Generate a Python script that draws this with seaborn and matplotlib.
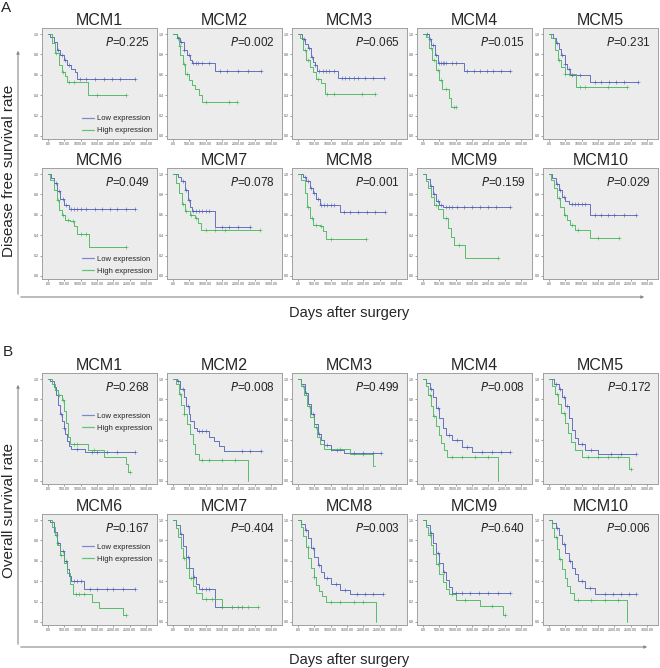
import numpy as np
import matplotlib
matplotlib.use("Agg")
import matplotlib.pyplot as plt
import seaborn as sns
from matplotlib.lines import Line2D
from matplotlib.patches import FancyArrowPatch

GENES = ["MCM1", "MCM2", "MCM3", "MCM4", "MCM5",
         "MCM6", "MCM7", "MCM8", "MCM9", "MCM10"]
DFS_P = ["0.225", "0.002", "0.065", "0.015", "0.231",
         "0.049", "0.078", "0.001", "0.159", "0.029"]
OS_P = ["0.268", "0.008", "0.499", "0.008", "0.172",
        "0.167", "0.404", "0.003", "0.640", "0.006"]

X_TICKS = [0, 500, 1000, 1500, 2000, 2500, 3000]
X_TICK_LABELS = [".00", "500.00", "1000.00", "1500.00", "2000.00", "2500.00", "3000.00"]
Y_TICKS = [0.0, 0.2, 0.4, 0.6, 0.8, 1.0]

# Kaplan-Meier steps (days, survival), last pair = end of follow-up
DFS_LOW = {
    "MCM1": [(0, 1.0), (60, 0.97), (170, 0.92), (280, 0.84), (380, 0.79), (480, 0.75), (580, 0.70), (710, 0.66), (820, 0.63), (890, 0.56), (2670, 0.56)],
    "MCM2": [(0, 1.0), (120, 0.96), (220, 0.92), (330, 0.84), (430, 0.79), (530, 0.75), (580, 0.72), (1300, 0.64), (2690, 0.64)],
    "MCM3": [(0, 1.0), (130, 0.95), (200, 0.90), (300, 0.86), (400, 0.78), (460, 0.73), (510, 0.70), (580, 0.64), (1220, 0.57), (2620, 0.57)],
    "MCM4": [(0, 1.0), (180, 0.95), (250, 0.89), (360, 0.79), (460, 0.72), (1250, 0.64), (2670, 0.64)],
    "MCM5": [(0, 1.0), (120, 0.96), (220, 0.91), (300, 0.85), (380, 0.79), (480, 0.71), (550, 0.66), (630, 0.60), (1250, 0.53), (2720, 0.53)],
    "MCM6": [(0, 1.0), (100, 0.96), (170, 0.91), (280, 0.83), (380, 0.76), (480, 0.70), (630, 0.66), (2670, 0.66)],
    "MCM7": [(0, 1.0), (150, 0.97), (250, 0.93), (360, 0.84), (460, 0.75), (530, 0.68), (590, 0.64), (1280, 0.48), (2370, 0.48)],
    "MCM8": [(0, 1.0), (150, 0.97), (250, 0.93), (360, 0.86), (460, 0.81), (560, 0.76), (660, 0.70), (1280, 0.63), (2650, 0.63)],
    "MCM9": [(0, 1.0), (100, 0.95), (200, 0.88), (300, 0.80), (400, 0.74), (500, 0.70), (600, 0.68), (2650, 0.68)],
    "MCM10": [(0, 1.0), (100, 0.96), (200, 0.90), (300, 0.84), (400, 0.78), (500, 0.74), (600, 0.71), (1250, 0.60), (2650, 0.60)],
}
DFS_HIGH = {
    "MCM1": [(0, 1.0), (120, 0.91), (220, 0.81), (330, 0.70), (430, 0.63), (530, 0.59), (580, 0.53), (1220, 0.40), (2390, 0.40)],
    "MCM2": [(0, 1.0), (120, 0.97), (170, 0.88), (220, 0.79), (310, 0.71), (380, 0.61), (480, 0.55), (580, 0.50), (680, 0.46), (790, 0.40), (890, 0.33), (1960, 0.33)],
    "MCM3": [(0, 1.0), (70, 0.96), (150, 0.84), (250, 0.75), (360, 0.68), (460, 0.63), (560, 0.56), (710, 0.52), (820, 0.41), (2350, 0.41)],
    "MCM4": [(0, 1.0), (100, 0.97), (180, 0.86), (290, 0.75), (390, 0.65), (490, 0.55), (590, 0.46), (800, 0.37), (870, 0.28), (1020, 0.28)],
    "MCM5": [(0, 1.0), (70, 0.96), (170, 0.84), (280, 0.75), (380, 0.68), (480, 0.61), (840, 0.48), (2390, 0.48)],
    "MCM6": [(0, 1.0), (70, 0.94), (170, 0.84), (280, 0.75), (350, 0.65), (430, 0.60), (530, 0.55), (680, 0.54), (790, 0.49), (890, 0.41), (1250, 0.28), (2390, 0.28)],
    "MCM7": [(0, 1.0), (100, 0.91), (180, 0.81), (260, 0.71), (360, 0.64), (510, 0.60), (660, 0.57), (770, 0.52), (870, 0.45), (2650, 0.45)],
    "MCM8": [(0, 1.0), (100, 0.94), (200, 0.81), (280, 0.68), (360, 0.57), (460, 0.50), (660, 0.49), (770, 0.44), (870, 0.36), (2090, 0.36)],
    "MCM9": [(0, 1.0), (80, 0.93), (150, 0.86), (250, 0.78), (350, 0.70), (450, 0.66), (600, 0.57), (750, 0.47), (850, 0.38), (950, 0.30), (1300, 0.18), (2300, 0.18)],
    "MCM10": [(0, 1.0), (60, 0.94), (150, 0.86), (250, 0.77), (350, 0.68), (450, 0.60), (550, 0.55), (650, 0.50), (800, 0.45), (1250, 0.37), (2150, 0.37)],
}
DFS_LOW_CENS = {
    "MCM1": [300, 420, 520, 650, 990, 1160, 1450, 1700, 1960, 2210, 2670],
    "MCM2": [150, 250, 350, 480, 620, 700, 780, 900, 1100, 1450, 1650, 2000, 2300, 2690],
    "MCM3": [180, 350, 420, 520, 650, 750, 850, 950, 1100, 1350, 1450, 1550, 1700, 1850, 2050, 2300, 2620],
    "MCM4": [120, 200, 300, 400, 500, 550, 600, 650, 700, 900, 1000, 1350, 1550, 1750, 1950, 2150, 2400, 2670],
    "MCM5": [250, 400, 500, 600, 700, 950, 1400, 1600, 1850, 2050, 2300, 2720],
    "MCM6": [250, 350, 450, 550, 700, 800, 900, 1000, 1150, 1450, 1650, 1900, 2100, 2400, 2670],
    "MCM7": [300, 400, 500, 620, 700, 800, 900, 1000, 1100, 1500, 1700, 2000, 2370],
    "MCM8": [200, 300, 400, 500, 600, 700, 800, 900, 1000, 1100, 1400, 1600, 1850, 2100, 2350, 2650],
    "MCM9": [250, 350, 450, 550, 700, 800, 900, 1050, 1250, 1500, 1750, 2000, 2250, 2650],
    "MCM10": [250, 350, 450, 700, 800, 900, 1000, 1100, 1400, 1600, 1800, 2000, 2300, 2650],
}
DFS_HIGH_CENS = {
    "MCM1": [250, 450, 650, 800, 1500, 2390],
    "MCM2": [200, 350, 420, 1000, 1700, 1960],
    "MCM3": [200, 300, 600, 900, 1100, 1950, 2350],
    "MCM4": [250, 350, 450, 550, 700, 950, 1020],
    "MCM5": [300, 500, 600, 950, 1100, 1800, 2390],
    "MCM6": [300, 450, 600, 750, 1000, 1150, 2390],
    "MCM7": [300, 400, 550, 700, 1000, 1300, 1600, 2650],
    "MCM8": [300, 420, 550, 700, 1000, 2090],
    "MCM9": [400, 700, 1100, 2300],
    "MCM10": [300, 500, 700, 900, 1500, 2150],
}

OS_LOW = {
    "MCM1": [(0, 1.0), (70, 0.98), (170, 0.92), (245, 0.84), (305, 0.75), (380, 0.66), (430, 0.59), (480, 0.52), (530, 0.46), (580, 0.39), (630, 0.34), (710, 0.31), (1140, 0.28), (2670, 0.28)],
    "MCM2": [(0, 1.0), (120, 0.98), (220, 0.90), (330, 0.82), (410, 0.74), (480, 0.66), (530, 0.59), (630, 0.52), (730, 0.49), (1090, 0.43), (1250, 0.39), (1400, 0.34), (1550, 0.29), (2690, 0.29)],
    "MCM3": [(0, 1.0), (100, 0.95), (200, 0.86), (300, 0.76), (400, 0.66), (500, 0.56), (600, 0.46), (700, 0.40), (800, 0.35), (1000, 0.30), (1400, 0.27), (2550, 0.27)],
    "MCM4": [(0, 1.0), (100, 0.96), (200, 0.90), (300, 0.82), (400, 0.72), (500, 0.62), (600, 0.52), (700, 0.45), (900, 0.40), (1200, 0.33), (1500, 0.28), (2650, 0.28)],
    "MCM5": [(0, 1.0), (150, 0.95), (300, 0.90), (400, 0.82), (500, 0.74), (600, 0.62), (700, 0.50), (800, 0.42), (900, 0.36), (1100, 0.30), (1500, 0.26), (2650, 0.26)],
    "MCM6": [(0, 1.0), (70, 0.98), (170, 0.88), (280, 0.78), (380, 0.70), (480, 0.60), (580, 0.52), (650, 0.45), (710, 0.40), (1090, 0.32), (2670, 0.32)],
    "MCM7": [(0, 1.0), (100, 0.95), (200, 0.86), (300, 0.75), (400, 0.64), (500, 0.53), (600, 0.44), (700, 0.37), (800, 0.32), (1300, 0.15), (2100, 0.15)],
    "MCM8": [(0, 1.0), (100, 0.96), (200, 0.90), (300, 0.82), (400, 0.73), (500, 0.64), (600, 0.56), (700, 0.49), (800, 0.43), (1000, 0.37), (1300, 0.31), (1600, 0.27), (2600, 0.27)],
    "MCM9": [(0, 1.0), (100, 0.95), (200, 0.87), (300, 0.78), (400, 0.68), (500, 0.58), (600, 0.49), (700, 0.41), (800, 0.34), (900, 0.28), (2650, 0.28)],
    "MCM10": [(0, 1.0), (100, 0.97), (200, 0.92), (300, 0.85), (400, 0.77), (500, 0.68), (600, 0.60), (700, 0.53), (800, 0.47), (900, 0.40), (1100, 0.33), (1400, 0.27), (2650, 0.27)],
}
OS_HIGH = {
    "MCM1": [(0, 1.0), (120, 0.95), (220, 0.89), (320, 0.84), (430, 0.79), (500, 0.69), (560, 0.57), (620, 0.43), (680, 0.36), (1220, 0.30), (1700, 0.24), (2380, 0.17), (2450, 0.09), (2500, 0.09)],
    "MCM2": [(0, 1.0), (100, 0.95), (170, 0.85), (250, 0.75), (330, 0.66), (430, 0.56), (530, 0.46), (610, 0.36), (680, 0.26), (790, 0.21), (2290, 0.0)],
    "MCM3": [(0, 1.0), (80, 0.93), (180, 0.84), (280, 0.74), (380, 0.63), (480, 0.53), (580, 0.43), (680, 0.36), (800, 0.31), (1600, 0.26), (2300, 0.15), (2350, 0.15)],
    "MCM4": [(0, 1.0), (80, 0.93), (160, 0.84), (240, 0.74), (320, 0.64), (400, 0.54), (480, 0.45), (560, 0.37), (640, 0.30), (720, 0.24), (2300, 0.0)],
    "MCM5": [(0, 1.0), (80, 0.93), (180, 0.85), (280, 0.76), (380, 0.67), (480, 0.57), (580, 0.47), (680, 0.38), (800, 0.30), (1000, 0.24), (2450, 0.12), (2500, 0.12)],
    "MCM6": [(0, 1.0), (120, 0.93), (200, 0.85), (290, 0.76), (380, 0.66), (480, 0.58), (580, 0.48), (680, 0.37), (750, 0.27), (1350, 0.20), (1550, 0.14), (2290, 0.07), (2390, 0.07)],
    "MCM7": [(0, 1.0), (80, 0.92), (160, 0.83), (240, 0.73), (320, 0.63), (400, 0.53), (500, 0.43), (600, 0.35), (700, 0.28), (900, 0.23), (1500, 0.15), (2600, 0.15)],
    "MCM8": [(0, 1.0), (80, 0.93), (160, 0.84), (240, 0.74), (320, 0.63), (400, 0.53), (480, 0.44), (560, 0.36), (640, 0.30), (720, 0.25), (850, 0.20), (2400, 0.0)],
    "MCM9": [(0, 1.0), (80, 0.93), (160, 0.85), (240, 0.76), (320, 0.67), (400, 0.57), (500, 0.47), (600, 0.39), (700, 0.32), (800, 0.27), (1000, 0.22), (1750, 0.16), (2450, 0.07), (2500, 0.07)],
    "MCM10": [(0, 1.0), (80, 0.92), (160, 0.83), (240, 0.72), (320, 0.62), (400, 0.52), (480, 0.43), (560, 0.35), (640, 0.28), (760, 0.22), (2400, 0.0)],
}
OS_LOW_CENS = {
    "MCM1": [400, 500, 900, 1350, 1500, 1800, 2100, 2670],
    "MCM2": [150, 300, 450, 800, 900, 1000, 2100, 2350, 2690],
    "MCM3": [250, 450, 650, 900, 1200, 1700, 2000, 2300, 2550],
    "MCM4": [250, 450, 800, 1050, 1350, 1800, 2100, 2400, 2650],
    "MCM5": [200, 350, 450, 550, 1000, 1300, 1900, 2200, 2650],
    "MCM6": [300, 450, 550, 800, 900, 1000, 1300, 1500, 1800, 2000, 2300, 2670],
    "MCM7": [250, 450, 650, 900, 1000, 1100, 1500, 1800, 2100],
    "MCM8": [250, 450, 650, 900, 1150, 1450, 1800, 2050, 2300, 2600],
    "MCM9": [250, 450, 650, 1000, 1200, 1450, 1700, 2000, 2300, 2650],
    "MCM10": [250, 450, 650, 1000, 1250, 1700, 1950, 2200, 2450, 2650],
}
OS_HIGH_CENS = {
    "MCM1": [250, 350, 450, 800, 900, 1400, 2500],
    "MCM2": [200, 350, 900, 1100, 1500, 1900],
    "MCM3": [150, 350, 550, 1000, 1300, 2000],
    "MCM4": [200, 350, 900, 1200, 1600, 2000],
    "MCM5": [250, 450, 1200, 1500, 1800, 2100, 2500],
    "MCM6": [250, 400, 850, 950, 1100, 2390],
    "MCM7": [350, 550, 1000, 1200, 2000, 2300, 2600],
    "MCM8": [300, 500, 1000, 1300, 1700, 2000],
    "MCM9": [200, 450, 900, 1300, 2100, 2500],
    "MCM10": [200, 350, 900, 1300, 1700, 2100],
}

LOW_COLOR = "#4f5fb8"
HIGH_COLOR = "#3fb456"

W, H = 660, 668
COL_LEFT = [42, 167, 292, 417, 543]
BOX_W, BOX_H = 115, 111

sns.set_style("white")
plt.rcParams["font.family"] = ["Liberation Sans", "DejaVu Sans"]

fig = plt.figure(figsize=(W / 100, H / 100), dpi=100)


def px_axes(left, top, w, h):
    return fig.add_axes([left / W, 1 - (top + h) / H, w / W, h / H])


def fig_arrow(x0, y0, x1, y1):
    fig.add_artist(FancyArrowPatch((x0 / W, 1 - y0 / H), (x1 / W, 1 - y1 / H),
                                   transform=fig.transFigure, arrowstyle="-|>",
                                   mutation_scale=4, lw=0.8, color="#8a8a8a"))


def draw_curve(ax, pts, cens, color):
    t = np.array([p[0] for p in pts], dtype=float)
    s = np.array([p[1] for p in pts], dtype=float)
    sns.lineplot(x=t, y=s, ax=ax, color=color, lw=0.6, drawstyle="steps-post",
                 estimator=None, sort=False, legend=False)
    c = np.array(cens, dtype=float)
    cs = s[np.searchsorted(t, c, side="right") - 1]
    sns.scatterplot(x=c, y=cs, ax=ax, marker="+", s=5, color=color,
                    linewidth=0.4, legend=False)


def draw_group(row_tops, low, high, low_c, high_c, pvals, legend_y):
    for i, gene in enumerate(GENES):
        r, c = divmod(i, 5)
        ax = px_axes(COL_LEFT[c], row_tops[r], BOX_W, BOX_H)
        ax.set_facecolor("#ececec")
        draw_curve(ax, low[gene], low_c[gene], LOW_COLOR)
        draw_curve(ax, high[gene], high_c[gene], HIGH_COLOR)
        ax.set_xlim(-184, 3337)
        ax.set_ylim(-0.03, 1.06)
        ax.set_xticks(X_TICKS)
        ax.set_xticklabels(X_TICK_LABELS)
        ax.set_yticks(Y_TICKS)
        ax.set_yticklabels([f"{v:.1f}" for v in Y_TICKS])
        ax.tick_params(length=1.5, width=0.4, labelsize=2.6, pad=1,
                       colors="#555555", bottom=True, left=True)
        for sp in ax.spines.values():
            sp.set_color("#a0a0a0")
            sp.set_linewidth(0.7)
        ax.set_xlabel("")
        ax.set_ylabel("")
        ax.set_title(gene, fontsize=11.5, pad=2)
        ax.text(0.94, 0.867, "$\\it{P}$=" + pvals[i], transform=ax.transAxes,
                ha="right", va="center", fontsize=8.5)
        if c == 0:
            handles = [Line2D([], [], color="#8088cc", lw=0.9),
                       Line2D([], [], color="#66c277", lw=0.9)]
            ax.legend(handles, ["Low expression", "High expression"],
                      loc="center right", bbox_to_anchor=(1.0, legend_y[r]),
                      frameon=False, fontsize=5.5, handlelength=1.6,
                      handletextpad=0.4, labelspacing=0.6, borderaxespad=0.2)


draw_group([28, 168], DFS_LOW, DFS_HIGH, DFS_LOW_CENS, DFS_HIGH_CENS, DFS_P, [0.13, 0.125])
draw_group([373, 514], OS_LOW, OS_HIGH, OS_LOW_CENS, OS_HIGH_CENS, OS_P, [0.555, 0.645])

# panel letters, outer L-shaped axes and shared labels
fig.text(6 / W, 1 - 8 / H, "A", fontsize=11, ha="center", va="center")
fig.text(8 / W, 1 - 352 / H, "B", fontsize=11, ha="center", va="center")

fig_arrow(18, 297, 18, 48)
fig_arrow(18, 297, 647, 297)
fig_arrow(18, 647, 18, 382)
fig_arrow(18, 647, 650, 647)

fig.text(9 / W, 1 - 171 / H, "Disease free survival rate", rotation=90,
         fontsize=11, ha="center", va="center")
fig.text(9 / W, 1 - 510 / H, "Overall survival rate", rotation=90,
         fontsize=11, ha="center", va="center")
fig.text(349 / W, 1 - 313 / H, "Days after surgery", fontsize=10.5,
         ha="center", va="center")
fig.text(349 / W, 1 - 660 / H, "Days after surgery", fontsize=10.5,
         ha="center", va="center")

fig.savefig("out.png", dpi=100)
